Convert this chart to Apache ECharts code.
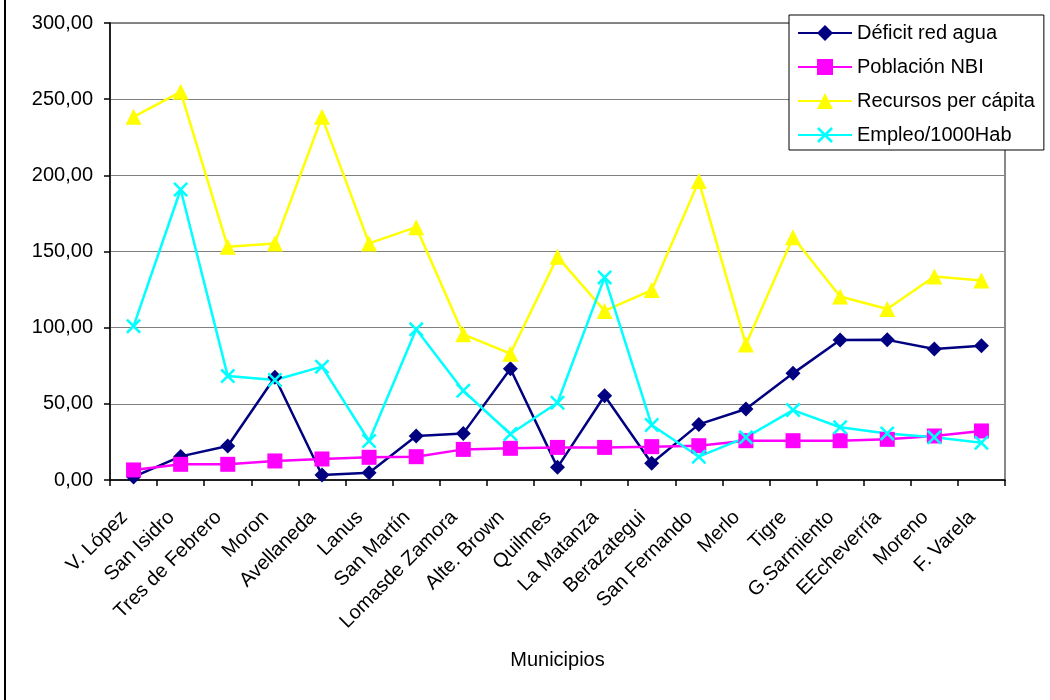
<!DOCTYPE html>
<html>
<head>
<meta charset="utf-8">
<script src="https://cdn.jsdelivr.net/npm/echarts@6/dist/echarts.min.js"></script>
<style>
  html, body { margin: 0; padding: 0; background: #fff; }
  #chart { width: 1050px; height: 700px; }
</style>
</head>
<body>
<div id="chart"></div>
<script>
// Municipios del conurbano bonaerense
const municipios = ['V. López', 'San Isidro', 'Tres de Febrero', 'Moron', 'Avellaneda', 'Lanus',
  'San Martín', 'Lomasde Zamora', 'Alte. Brown', 'Quilmes', 'La Matanza', 'Berazategui',
  'San Fernando', 'Merlo', 'Tigre', 'G.Sarmiento', 'EEcheverría', 'Moreno', 'F. Varela'];

const deficitRedAgua = [2, 15.5, 22.3, 67.4, 3.3, 4.8, 28.9, 30.6, 73, 8.3, 55.3, 11, 36.5, 46.6, 70, 91.9, 92, 86, 88.1];
const poblacionNBI = [6.6, 10.3, 10.3, 12.5, 13.8, 14.9, 15.3, 20.1, 20.8, 21.4, 21.4, 21.9, 22.5, 25.8, 25.8, 25.8, 26.7, 28.9, 32.2];
const recursosPerCapita = [238.4, 254.8, 153.1, 155.3, 238.4, 155.3, 166, 95.6, 82.9, 146.5, 111, 124.7, 196.2, 88.9, 159.4, 120.5, 112.3, 133.6, 130.9];
const empleoPor1000 = [101, 190.7, 68.2, 65.6, 74.4, 25.6, 98.9, 58.6, 30.2, 50.7, 133, 36.1, 15.3, 28, 45.9, 34.6, 30.6, 28, 24.5];

const yTicks = { min: 0, max: 300, step: 50 };

const FONT = "'Liberation Sans', Arial, sans-serif";
// X-shaped marker drawn as a filled outline
const CROSS = 'path://M0,1.2 L1.2,0 L10,8.8 L8.8,10 Z M8.8,0 L10,1.2 L1.2,10 L0,8.8 Z';

function lineSeries(name, data, color, symbol, size) {
  return {
    name: name,
    type: 'line',
    data: data,
    symbol: symbol,
    symbolSize: size,
    showAllSymbol: true,
    lineStyle: { color: color, width: 2.5 },
    itemStyle: { color: color, borderWidth: 0 },
    emphasis: { disabled: true },
    animation: false,
    z: 3
  };
}

const chart = echarts.init(document.getElementById('chart'), null, { renderer: 'canvas' });
chart.setOption({
  backgroundColor: '#ffffff',
  animation: false,
  textStyle: { fontFamily: FONT },
  grid: {
    left: 110, right: 45, top: 23, bottom: 220,
    show: true, borderColor: '#888888', borderWidth: 2, backgroundColor: 'transparent'
  },
  legend: {
    orient: 'vertical',
    left: 789, top: 15,
    padding: [8, 9, 5, 8],
    itemWidth: 54, itemHeight: 20, itemGap: 14,
    backgroundColor: '#ffffff',
    borderColor: '#000000', borderWidth: 1,
    textStyle: { fontFamily: FONT, fontSize: 20, color: '#000' },
    data: ['Déficit red agua', 'Población NBI', 'Recursos per cápita', 'Empleo/1000Hab']
  },
  xAxis: {
    type: 'category',
    data: municipios,
    boundaryGap: true,
    name: 'Municipios',
    nameLocation: 'middle',
    nameGap: 170,
    nameTextStyle: { fontFamily: FONT, fontSize: 20, color: '#000' },
    axisLine: { lineStyle: { color: '#000', width: 1.5 } },
    axisTick: { show: true, length: 6, alignWithLabel: false, lineStyle: { color: '#000', width: 1.5 } },
    axisLabel: {
      interval: 0, rotate: 45, margin: 25,
      fontFamily: FONT, fontSize: 20, color: '#000',
      padding: [0, 13, 0, 0]
    },
    splitLine: { show: false }
  },
  yAxis: {
    type: 'value',
    min: yTicks.min, max: yTicks.max, interval: yTicks.step,
    axisLine: { show: true, lineStyle: { color: '#000', width: 1.5 } },
    axisTick: { show: true, length: 6, lineStyle: { color: '#000', width: 1.5 } },
    axisLabel: {
      margin: 17, fontFamily: FONT, fontSize: 20, color: '#000',
      formatter: v => v.toFixed(2).replace('.', ',')
    },
    splitLine: { show: true, lineStyle: { color: '#808080', width: 1.2 } }
  },
  graphic: [{
    type: 'line',
    shape: { x1: 5, y1: 0, x2: 5, y2: 700 },
    style: { stroke: '#000', lineWidth: 2 },
    silent: true
  }],
  series: [
    lineSeries('Déficit red agua', deficitRedAgua, '#000080', 'diamond', 15),
    lineSeries('Población NBI', poblacionNBI, '#FF00FF', 'rect', 15),
    lineSeries('Recursos per cápita', recursosPerCapita, '#FFFF00', 'triangle', 16),
    lineSeries('Empleo/1000Hab', empleoPor1000, '#00FFFF', CROSS, 15)
  ]
});
</script>
</body>
</html>
